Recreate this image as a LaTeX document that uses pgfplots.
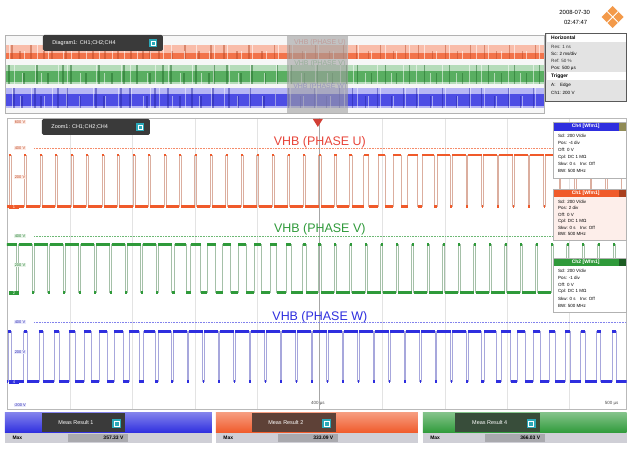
\documentclass[border=0pt]{standalone}
\usepackage{pgfplots}
\pgfplotsset{compat=1.18}
\usepackage{pgfplotstable}
\usepackage{fontspec}
\setmainfont{Liberation Sans}
\definecolor{cu}{HTML}{F05A2A}
\definecolor{cut}{HTML}{E8453A}
\definecolor{cv}{HTML}{2F9A3A}
\definecolor{cw}{HTML}{2E2EDF}
\definecolor{tabd}{HTML}{3A3A3A}
\definecolor{icon}{HTML}{2BA8B8}
\definecolor{rowg}{HTML}{CFCFD6}
\definecolor{valg}{HTML}{A9A9AE}
\definecolor{rslogo}{HTML}{F39A4A}
\newcommand{\fs}[1]{\fontsize{#1}{#1}\selectfont}

% Phase U (red): x in px, y in px (high 155, low 207)
\pgfplotstableread[row sep=\\]{
x y\\
7 207\\ 9 155\\ 11 207\\ 24.5 155\\ 26.5 207\\ 40 155\\ 42 207\\ 55.5 155\\ 57.5 207\\
71 155\\ 73 207\\ 86.5 155\\ 88.5 207\\ 102 155\\ 104 207\\ 117.5 155\\ 119.5 207\\
133 155\\ 135 207\\ 148.5 155\\ 150.5 207\\ 164 155\\ 166 207\\ 179.5 155\\ 181.5 207\\
195 155\\ 197 207\\ 210.5 155\\ 212.5 207\\ 226 155\\ 228 207\\ 241.5 155\\ 243.5 207\\
257 155\\ 259 207\\ 272.5 155\\ 274.5 207\\ 288 155\\ 290 207\\ 303.5 155\\ 305.5 207\\
318.8 155\\ 321.2 207\\ 334.2 155\\ 336.8 207\\ 349.4 155\\ 352.6 207\\ 364 155\\ 369 207\\
378.6 155\\ 385.4 207\\ 393.3 155\\ 401.7 207\\ 408 155\\ 418 207\\ 422.7 155\\ 434.3 207\\
437.5 155\\ 450.5 207\\ 452.5 155\\ 466.5 207\\ 468 155\\ 482 207\\ 483.5 155\\ 497.5 207\\
499 155\\ 513 207\\ 514.5 155\\ 528.5 207\\ 530 155\\ 544 207\\ 545.5 155\\ 559.5 207\\
561 155\\ 575 207\\ 576.5 155\\ 590.5 207\\ 592 155\\ 606 207\\ 607.5 155\\ 621.5 207\\
627 207\\
}\tabU

% Phase V (green): high 245, low 293
\pgfplotstableread[row sep=\\]{
x y\\
3.2 245\\ 16.8 293\\ 18.7 245\\ 32.3 293\\ 34.2 245\\ 47.8 293\\ 49.7 245\\ 63.3 293\\
65.2 245\\ 78.8 293\\ 80.7 245\\ 94.3 293\\ 96.2 245\\ 109.8 293\\ 111.7 245\\ 125.3 293\\
127.2 245\\ 140.8 293\\ 142.7 245\\ 156.3 293\\ 158.2 245\\ 171.8 293\\ 174.7 245\\ 186.3 293\\
191 245\\ 201 293\\ 207.2 245\\ 215.8 293\\ 223 245\\ 231 293\\ 238.6 245\\ 246.4 293\\
254.5 245\\ 261.5 293\\ 270.2 245\\ 276.8 293\\ 286.5 245\\ 291.5 293\\ 302.8 245\\ 306.2 293\\
318.6 245\\ 321.4 293\\ 334.4 245\\ 336.6 293\\ 350 245\\ 352 293\\ 365.5 245\\ 367.5 293\\
381 245\\ 383 293\\ 396.5 245\\ 398.5 293\\ 412 245\\ 414 293\\ 427.5 245\\ 429.5 293\\
443 245\\ 445 293\\ 458.5 245\\ 460.5 293\\ 474 245\\ 476 293\\ 489.5 245\\ 491.5 293\\
505 245\\ 507 293\\ 520.5 245\\ 522.5 293\\ 536 245\\ 538 293\\ 551.5 245\\ 553.5 293\\
567 245\\ 569 293\\ 582.5 245\\ 584.5 293\\ 598 245\\ 600 293\\ 613.5 245\\ 615.5 293\\
627 293\\
}\tabV

% Phase W (blue): high 332, low 382
\pgfplotstableread[row sep=\\]{
x y\\
7 382\\ 8.5 332\\ 11.5 382\\ 23.8 332\\ 27.2 382\\ 39 332\\ 43 382\\ 54 332\\ 59 382\\
69 332\\ 75 382\\ 84 332\\ 91 382\\ 99 332\\ 107 382\\ 114 332\\ 123 382\\
129 332\\ 139 382\\ 143.7 332\\ 155.3 382\\ 158.5 332\\ 171.5 382\\ 173.5 332\\ 187.5 382\\
189 332\\ 203 382\\ 204.5 332\\ 218.5 382\\ 220 332\\ 234 382\\ 235.5 332\\ 249.5 382\\
251 332\\ 265 382\\ 266.5 332\\ 280.5 382\\ 282 332\\ 296 382\\ 297.5 332\\ 311.5 382\\
313 332\\ 327 382\\ 328.5 332\\ 342.5 382\\ 344 332\\ 358 382\\ 359.5 332\\ 373.5 382\\
375 332\\ 389 382\\ 390.5 332\\ 404.5 382\\ 406 332\\ 420 382\\ 421.5 332\\ 435.5 382\\
437 332\\ 451 382\\ 452.5 332\\ 466.5 382\\ 468.4 332\\ 481.6 382\\ 484.7 332\\ 496.3 382\\
501.2 332\\ 510.8 382\\ 517.5 332\\ 525.5 382\\ 533.6 332\\ 540.4 382\\ 549.6 332\\ 555.4 382\\
565.5 332\\ 570.5 382\\ 581.2 332\\ 585.8 382\\ 596.9 332\\ 601.1 382\\ 612.4 332\\ 616.6 382\\
627 382\\
}\tabW

% overview stripes
\pgfplotstableread[row sep=\\]{
xr xg xb h\\
12 9 14 1\\ 20 24 22 0.6\\ 31 37 35 1\\ 44 48 41 0.6\\ 52 63 58 1\\ 66 71 67 1\\
79 86 80 0.6\\ 93 99 96 1\\ 105 112 104 0.6\\ 118 124 121 1\\ 131 137 130 1\\ 143 150 147 0.6\\
150 163 155 1\\ 159 171 168 1\\ 172 184 180 0.6\\ 185 196 192 1\\ 199 209 201 0.6\\ 211 214 213 1\\
224 227 229 1\\ 237 241 238 0.6\\ 249 252 250 1\\ 262 266 264 0.6\\ 275 278 276 1\\ 290 292 289 1\\
303 305 301 0.6\\ 316 318 315 1\\ 330 333 327 0.6\\ 344 347 340 1\\ 357 358 353 1\\ 369 372 366 0.6\\
381 386 378 1\\ 394 397 392 0.6\\ 406 410 404 1\\ 419 425 417 1\\ 433 437 431 0.6\\ 446 450 443 1\\
458 463 457 0.6\\ 471 477 470 1\\ 485 489 482 1\\ 497 502 495 0.6\\ 510 515 509 1\\ 523 527 521 0.6\\
536 540 534 1\\
}\stripes

\pgfplotsset{
  pix/.style={scale only axis, hide axis, at={(0bp,0bp)}, anchor=south west,
    width=627bp, height=451bp, xmin=0, xmax=627, ymin=0, ymax=451, y dir=reverse, clip=false},
  band/.style={scale only axis, hide axis, anchor=south west, width=540bp,
    xmin=5, xmax=545, ymin=0, ymax=1},
}
\tikzset{
  lab/.style={font=\fs{4}, inner sep=0.6pt},
  info/.style={font=\fs{4.5}, anchor=west},
}

\begin{document}
\begin{tikzpicture}
% ---------- background ----------
\begin{axis}[pix]
\fill[white] (0,0) rectangle (627,451);
\fill[gray!6] (5,35) rectangle (545,113);
\end{axis}

% ---------- overview bands ----------
\begin{axis}[band, at={(5bp,392bp)}, height=14bp]
\addplot[fill=cu!40, draw=none] coordinates {(5,0)(545,0)(545,1)(5,1)} -- cycle;
\addplot[fill=cu!85, draw=none] coordinates {(5,0)(545,0)(545,0.45)(5,0.45)} -- cycle;
\addplot[ycomb, cu!75!black, line width=1.3pt, opacity=0.45] table[x=xr, y=h] {\stripes};
\addplot[ycomb, white, line width=0.6pt, opacity=0.6] table[x=xg, y=h] {\stripes};
\end{axis}
\begin{axis}[band, at={(5bp,367bp)}, height=19bp]
\addplot[fill=cv!35, draw=none] coordinates {(5,0)(545,0)(545,1)(5,1)} -- cycle;
\addplot[fill=cv!80, draw=none] coordinates {(5,0.1)(545,0.1)(545,0.7)(5,0.7)} -- cycle;
\addplot[ycomb, cv!70!black, line width=1.3pt, opacity=0.5] table[x=xg, y=h] {\stripes};
\addplot[ycomb, white, line width=0.6pt, opacity=0.55] table[x=xb, y=h] {\stripes};
\end{axis}
\begin{axis}[band, at={(5bp,343bp)}, height=20bp]
\addplot[fill=cw!35, draw=none] coordinates {(5,0)(545,0)(545,1)(5,1)} -- cycle;
\addplot[fill=cw!85, draw=none] coordinates {(5,0.1)(545,0.1)(545,0.7)(5,0.7)} -- cycle;
\addplot[ycomb, cw!70!black, line width=1.3pt, opacity=0.45] table[x=xb, y=h] {\stripes};
\addplot[ycomb, white, line width=0.6pt, opacity=0.5] table[x=xr, y=h] {\stripes};
\end{axis}

% ---------- main zoom diagram ----------
\begin{axis}[at={(7bp,41bp)}, anchor=south west, scale only axis,
  width=620bp, height=292bp, xmin=7, xmax=627, ymin=118, ymax=410, y dir=reverse,
  xtick={70,132.5,195,257.5,382.5,445,507.5,570}, ytick=\empty,
  xticklabels={}, major tick length=0pt, xmajorgrids, grid style={gray!22, line width=0.5pt},
  axis line style={gray!55, line width=0.6pt}]
\addplot[gray!70, line width=0.8pt] coordinates {(320,118) (320,410)};
\addplot[cu!70, densely dotted, line width=0.6pt] coordinates {(34,148) (627,148)};
\addplot[cv!70, densely dotted, line width=0.6pt] coordinates {(34,236) (627,236)};
\addplot[cw!60, densely dotted, line width=0.6pt] coordinates {(34,322) (627,322)};
% waveforms: thin pale edges, thick levels
\addplot[const plot mark left, {cu!55!gray!55}, line width=0.8pt] table {\tabU};
\addplot[jump mark left, cu, line width=2.8pt] table {\tabU};
\addplot[const plot mark left, {cv!45!gray!55}, line width=0.8pt] table {\tabV};
\addplot[jump mark left, cv, line width=2.8pt] table {\tabV};
\addplot[const plot mark left, {cw!60!gray!50}, line width=0.8pt] table {\tabW};
\addplot[jump mark left, cw, line width=2.8pt] table {\tabW};
\node[text=cut, font=\fs{12.5}] at (320,142) {VHB (PHASE U)};
\node[text=cv, font=\fs{12.5}] at (320,229) {VHB (PHASE V)};
\node[text=cw, font=\fs{12.5}] at (320,317) {VHB (PHASE W)};
\end{axis}

% ---------- overlay: panels and texts ----------
\begin{axis}[pix]
% overview titles, highlight, frame
\node[text=cut!55, font=\fs{7}] at (320,43) {VHB (PHASE U)};
\node[text=cv!55, font=\fs{7}] at (320,64) {VHB (PHASE V)};
\node[text=cw!55, font=\fs{7}] at (320,87) {VHB (PHASE W)};
\fill[gray!75, opacity=0.6] (287,35) rectangle (348,113);
\draw[gray!60, line width=0.6pt] (5,35) rectangle (545,113);
% tabs
\fill[tabd, rounded corners=1.5bp] (43,35) rectangle (163,51);
\node[text=white, font=\fs{5.5}, anchor=west] at (49,43) {Diagram1: CH1;CH2;CH4};
\fill[icon] (149,39) rectangle (157,47); \draw[white, line width=0.5pt] (151,41) rectangle (155,45);
\fill[tabd, rounded corners=1.5bp] (42,119) rectangle (150,135);
\node[text=white, font=\fs{5.5}, anchor=west] at (48,127) {Zoom1: CH1;CH2;CH4};
\fill[icon] (136,123) rectangle (144,131); \draw[white, line width=0.5pt] (138,125) rectangle (142,129);
% trigger marker
\fill[cut!90!black] (313,119) -- (323,119) -- (318,127) -- cycle;
% left scale labels
\node[lab, text=cu!80!black, fill=cu!12] at (20,122) {600 V};
\node[lab, text=cu!80!black, fill=cu!12] at (20,148) {400 V};
\node[lab, text=cu!80!black, fill=cu!12] at (20,177) {200 V};
\node[lab, text=cv!80!black, fill=cv!12] at (20,236) {400 V};
\node[lab, text=cv!80!black, fill=cv!12] at (20,265) {200 V};
\node[lab, text=cw!80!black, fill=cw!10] at (20,322) {400 V};
\node[lab, text=cw!80!black, fill=cw!10] at (20,352) {200 V};
\node[lab, text=cw!80!black, fill=cw!10] at (20,405) {-200 V};
\node[fill=cu, text=white, font=\fs{4}, inner sep=0.8pt, minimum width=10bp] at (14,207) {1};
\node[fill=cv, text=white, font=\fs{4}, inner sep=0.8pt, minimum width=10bp] at (14,293) {2};
\node[fill=cw, text=white, font=\fs{4}, inner sep=0.8pt, minimum width=10bp] at (14,382) {4};
\node[font=\fs{4.5}, text=gray!60!black] at (318,404) {400 µs};
\node[font=\fs{4.5}, text=gray!60!black] at (612,404) {500 µs};
% date and logo
\node[font=\fs{6}] at (575,12) {2008-07-30};
\node[font=\fs{6}] at (576,22) {02:47:47};
\fill[rslogo] (613,6) -- (624,17) -- (613,28) -- (602,17) -- cycle;
\draw[white, line width=0.9pt] (607.5,11.5) -- (618.5,22.5);
\draw[white, line width=0.9pt] (618.5,11.5) -- (607.5,22.5);
% horizontal / trigger panel
\fill[gray!22] (546,33) rectangle (627,101);
\draw[gray!70!black, line width=0.7pt] (546,33) rectangle (627,101);
\fill[white] (547,34) rectangle (626,42);
\node[font=\bfseries\fs{5}, anchor=west] at (548,38) {Horizontal};
\node[font=\fs{4.6}, anchor=west, text=gray!40!black] at (548,47) {Res: 1 ns};
\node[font=\fs{4.6}, anchor=west] at (548,54) {Sc: 2 ms/div};
\node[font=\fs{4.6}, anchor=west, text=gray!40!black] at (548,61) {Ref: 50 \%};
\node[font=\fs{4.6}, anchor=west] at (548,68) {Pos: 500 µs};
\fill[white] (547,72) rectangle (626,80);
\node[font=\bfseries\fs{5}, anchor=west] at (548,76) {Trigger};
\node[font=\fs{4.6}, anchor=west] at (548,85) {A:\quad Edge};
\node[font=\fs{4.6}, anchor=west] at (548,93) {Ch1: 200 V};
% channel boxes
\fill[white] (553,131) rectangle (627,178);
\fill[cw] (553,122) rectangle (619,131); \fill[gray!60!olive] (619,122) rectangle (627,131);
\node[font=\bfseries\fs{5}, text=white] at (586,126.5) {Ch4 [Wfm1]};
\draw[gray!60] (553,122) rectangle (627,178);
\node[info] at (555,136) {Scl: 200 V/div};
\node[info] at (555,143) {Pos: -4 div};
\node[info] at (555,150) {Off: 0 V};
\node[info] at (555,157) {Cpl: DC 1 MΩ};
\node[info] at (555,164) {Skw: 0 s\quad Inv: Off};
\node[info] at (555,171) {BW: 500 MHz};
\fill[cu!10] (553,197) rectangle (627,240);
\fill[cu] (553,189) rectangle (619,197); \fill[cu!70!black] (619,189) rectangle (627,197);
\node[font=\bfseries\fs{5}, text=white] at (586,193) {Ch1 [Wfm1]};
\draw[gray!60] (553,189) rectangle (627,240);
\node[info] at (555,202) {Scl: 200 V/div};
\node[info] at (555,208.5) {Pos: 2 div};
\node[info] at (555,215) {Off: 0 V};
\node[info] at (555,221.5) {Cpl: DC 1 MΩ};
\node[info] at (555,228) {Skw: 0 s\quad Inv: Off};
\node[info] at (555,234.5) {BW: 500 MHz};
\fill[white] (553,266) rectangle (627,312);
\fill[cv] (553,258) rectangle (619,266); \fill[cv!60!black] (619,258) rectangle (627,266);
\node[font=\bfseries\fs{5}, text=white] at (586,262) {Ch2 [Wfm1]};
\draw[gray!60] (553,258) rectangle (627,312);
\node[info] at (555,271) {Scl: 200 V/div};
\node[info] at (555,278) {Pos: -1 div};
\node[info] at (555,285) {Off: 0 V};
\node[info] at (555,292) {Cpl: DC 1 MΩ};
\node[info] at (555,299) {Skw: 0 s\quad Inv: Off};
\node[info] at (555,306) {BW: 500 MHz};
% measurement bars
\shade[top color=cw!60!white, bottom color=cw] (5,413) rectangle (212,433);
\fill[tabd] (42,413) rectangle (125,432);
\node[font=\fs{5.5}, text=white] at (76,423) {Meas Result 1};
\fill[icon] (112,419) rectangle (121,428); \draw[white, line width=0.5pt] (114,421) rectangle (119,426);
\fill[rowg] (5,433) rectangle (212,443);
\node[font=\bfseries\fs{5}, anchor=west] at (9,438) {Max};
\fill[valg] (68,434) rectangle (128,442);
\node[font=\bfseries\fs{5}, anchor=east] at (127,438) {357.33 V};
\shade[top color=cu!60!white, bottom color=cu] (216,413) rectangle (418,433);
\fill[tabd!80!cu] (252,413) rectangle (336,432);
\node[font=\fs{5.5}, text=white] at (286,423) {Meas Result 2};
\fill[icon] (322,419) rectangle (331,428); \draw[white, line width=0.5pt] (324,421) rectangle (329,426);
\fill[rowg] (216,433) rectangle (418,443);
\node[font=\bfseries\fs{5}, anchor=west] at (220,438) {Max};
\fill[valg] (278,434) rectangle (338,442);
\node[font=\bfseries\fs{5}, anchor=east] at (337,438) {333.09 V};
\shade[top color=cv!60!white, bottom color=cv] (423,413) rectangle (627,433);
\fill[tabd!80!cv] (455,413) rectangle (540,432);
\node[font=\fs{5.5}, text=white] at (490,423) {Meas Result 4};
\fill[icon] (527,419) rectangle (536,428); \draw[white, line width=0.5pt] (529,421) rectangle (534,426);
\fill[rowg] (423,433) rectangle (627,443);
\node[font=\bfseries\fs{5}, anchor=west] at (427,438) {Max};
\fill[valg] (485,434) rectangle (545,442);
\node[font=\bfseries\fs{5}, anchor=east] at (544,438) {366.03 V};
\end{axis}
\end{tikzpicture}
\end{document}
